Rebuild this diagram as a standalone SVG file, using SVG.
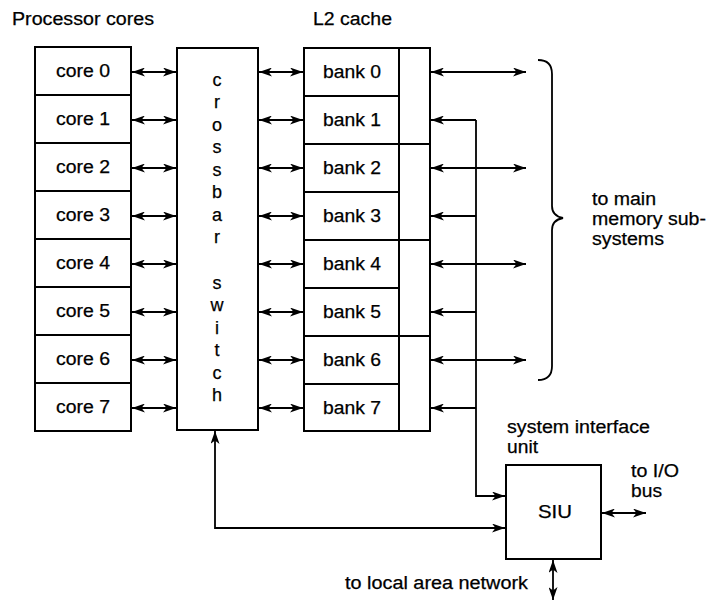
<svg xmlns="http://www.w3.org/2000/svg" width="711" height="602" viewBox="0 0 711 602">
<defs>
<style>
text{font-family:"Liberation Sans",Arial,sans-serif;font-size:18px;fill:#000;stroke:#000;stroke-width:0.25}
.c{text-anchor:middle}
.box{fill:#fff;stroke:#000;stroke-width:2}
.ln{fill:none;stroke:#000;stroke-width:1.8}
.a2{marker-start:url(#ah);marker-end:url(#ah)}
.a1{marker-end:url(#ah)}
</style>
<marker id="ah" viewBox="0 0 13 9" refX="13" refY="4.5" markerWidth="13" markerHeight="9" markerUnits="userSpaceOnUse" orient="auto-start-reverse">
<path d="M0,0 L13,4.5 L0,9 L3.5,4.5 z" fill="#000"/>
</marker>
</defs>
<rect width="711" height="602" fill="#fff"/>
<text x="12" y="25" textLength="142" lengthAdjust="spacingAndGlyphs">Processor cores</text>
<text x="313" y="25" textLength="79" lengthAdjust="spacingAndGlyphs">L2 cache</text>
<g id="cores">
<g id="core0"><rect class="box" x="35" y="47" width="96" height="48"/><text class="c" x="83" y="77" textLength="54" lengthAdjust="spacingAndGlyphs">core 0</text></g>
<g id="core1"><rect class="box" x="35" y="95" width="96" height="48"/><text class="c" x="83" y="125" textLength="54" lengthAdjust="spacingAndGlyphs">core 1</text></g>
<g id="core2"><rect class="box" x="35" y="143" width="96" height="48"/><text class="c" x="83" y="173" textLength="54" lengthAdjust="spacingAndGlyphs">core 2</text></g>
<g id="core3"><rect class="box" x="35" y="191" width="96" height="48"/><text class="c" x="83" y="221" textLength="54" lengthAdjust="spacingAndGlyphs">core 3</text></g>
<g id="core4"><rect class="box" x="35" y="239" width="96" height="48"/><text class="c" x="83" y="269" textLength="54" lengthAdjust="spacingAndGlyphs">core 4</text></g>
<g id="core5"><rect class="box" x="35" y="287" width="96" height="48"/><text class="c" x="83" y="317" textLength="54" lengthAdjust="spacingAndGlyphs">core 5</text></g>
<g id="core6"><rect class="box" x="35" y="335" width="96" height="48"/><text class="c" x="83" y="365" textLength="54" lengthAdjust="spacingAndGlyphs">core 6</text></g>
<g id="core7"><rect class="box" x="35" y="383" width="96" height="48"/><text class="c" x="83" y="413" textLength="54" lengthAdjust="spacingAndGlyphs">core 7</text></g>
</g>
<g id="crossbar">
<rect class="box" x="177" y="48" width="81" height="382"/>
<text class="c" x="217" y="86">c</text>
<text class="c" x="217" y="108">r</text>
<text class="c" x="217" y="131">o</text>
<text class="c" x="217" y="153">s</text>
<text class="c" x="217" y="176">s</text>
<text class="c" x="217" y="198">b</text>
<text class="c" x="217" y="221">a</text>
<text class="c" x="217" y="243">r</text>
<text class="c" x="217" y="289">s</text>
<text class="c" x="217" y="311">w</text>
<text class="c" x="217" y="334">i</text>
<text class="c" x="217" y="356">t</text>
<text class="c" x="217" y="379">c</text>
<text class="c" x="217" y="401">h</text>
</g>
<g id="l2cache">
<g id="bank0"><rect class="box" x="304" y="48" width="95" height="48"/><text class="c" x="352" y="78" textLength="58" lengthAdjust="spacingAndGlyphs">bank 0</text></g>
<g id="bank1"><rect class="box" x="304" y="96" width="95" height="48"/><text class="c" x="352" y="126" textLength="58" lengthAdjust="spacingAndGlyphs">bank 1</text></g>
<g id="bank2"><rect class="box" x="304" y="144" width="95" height="48"/><text class="c" x="352" y="174" textLength="58" lengthAdjust="spacingAndGlyphs">bank 2</text></g>
<g id="bank3"><rect class="box" x="304" y="192" width="95" height="48"/><text class="c" x="352" y="222" textLength="58" lengthAdjust="spacingAndGlyphs">bank 3</text></g>
<g id="bank4"><rect class="box" x="304" y="240" width="95" height="48"/><text class="c" x="352" y="270" textLength="58" lengthAdjust="spacingAndGlyphs">bank 4</text></g>
<g id="bank5"><rect class="box" x="304" y="288" width="95" height="48"/><text class="c" x="352" y="318" textLength="58" lengthAdjust="spacingAndGlyphs">bank 5</text></g>
<g id="bank6"><rect class="box" x="304" y="336" width="95" height="48"/><text class="c" x="352" y="366" textLength="58" lengthAdjust="spacingAndGlyphs">bank 6</text></g>
<g id="bank7"><rect class="box" x="304" y="384" width="95" height="47"/><text class="c" x="352" y="414" textLength="58" lengthAdjust="spacingAndGlyphs">bank 7</text></g>
<g id="ctl01"><rect class="box" x="399" y="48" width="31" height="96"/></g>
<g id="ctl23"><rect class="box" x="399" y="144" width="31" height="96"/></g>
<g id="ctl45"><rect class="box" x="399" y="240" width="31" height="96"/></g>
<g id="ctl67"><rect class="box" x="399" y="336" width="31" height="95"/></g>
</g>
<g id="siu">
<rect class="box" x="506" y="465" width="95" height="94"/>
<text class="c" x="555" y="518" textLength="34" lengthAdjust="spacingAndGlyphs">SIU</text>
</g>
<g id="labels">
<text x="507" y="433" textLength="143" lengthAdjust="spacingAndGlyphs">system interface</text>
<text x="507" y="453" textLength="31" lengthAdjust="spacingAndGlyphs">unit</text>
<text x="631" y="477" textLength="48" lengthAdjust="spacingAndGlyphs">to I/O</text>
<text x="631" y="497" textLength="31" lengthAdjust="spacingAndGlyphs">bus</text>
<text x="345" y="589" textLength="183" lengthAdjust="spacingAndGlyphs">to local area network</text>
<text x="592" y="205" textLength="64" lengthAdjust="spacingAndGlyphs">to main</text>
<text x="592" y="225" textLength="114" lengthAdjust="spacingAndGlyphs">memory sub-</text>
<text x="592" y="245" textLength="72" lengthAdjust="spacingAndGlyphs">systems</text>
</g>
<g id="connectors">
<line class="ln a2" x1="132" y1="72" x2="176" y2="72"/>
<line class="ln a2" x1="132" y1="120" x2="176" y2="120"/>
<line class="ln a2" x1="132" y1="168" x2="176" y2="168"/>
<line class="ln a2" x1="132" y1="216" x2="176" y2="216"/>
<line class="ln a2" x1="132" y1="264" x2="176" y2="264"/>
<line class="ln a2" x1="132" y1="312" x2="176" y2="312"/>
<line class="ln a2" x1="132" y1="360" x2="176" y2="360"/>
<line class="ln a2" x1="132" y1="408" x2="176" y2="408"/>
<line class="ln a2" x1="259" y1="72" x2="303" y2="72"/>
<line class="ln a2" x1="259" y1="120" x2="303" y2="120"/>
<line class="ln a2" x1="259" y1="168" x2="303" y2="168"/>
<line class="ln a2" x1="259" y1="216" x2="303" y2="216"/>
<line class="ln a2" x1="259" y1="264" x2="303" y2="264"/>
<line class="ln a2" x1="259" y1="312" x2="303" y2="312"/>
<line class="ln a2" x1="259" y1="360" x2="303" y2="360"/>
<line class="ln a2" x1="259" y1="408" x2="303" y2="408"/>
<line class="ln a2" x1="431" y1="72" x2="526" y2="72"/>
<line class="ln a2" x1="431" y1="168" x2="526" y2="168"/>
<line class="ln a2" x1="431" y1="264" x2="526" y2="264"/>
<line class="ln a2" x1="431" y1="360" x2="526" y2="360"/>
<line class="ln a1" x1="476" y1="120" x2="431" y2="120"/>
<line class="ln a1" x1="476" y1="216" x2="431" y2="216"/>
<line class="ln a1" x1="476" y1="312" x2="431" y2="312"/>
<line class="ln a1" x1="476" y1="408" x2="431" y2="408"/>
<path class="ln a1" d="M476,120 V496 H505"/>
<path class="ln a2" d="M505,528 H215 V431"/>
<line class="ln a2" x1="602" y1="513" x2="646" y2="513"/>
<line class="ln a2" x1="553" y1="560" x2="553" y2="600"/>
<path class="ln" d="M538,60 Q552,60 552,74 V206 Q552,216 563,218 Q552,220 552,230 V366 Q552,380 538,380"/>
</g>
</svg>
